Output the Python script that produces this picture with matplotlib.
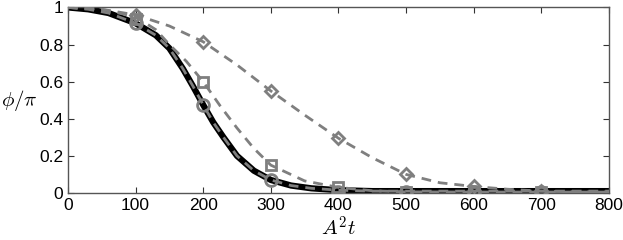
import numpy as np
import matplotlib
matplotlib.use("Agg")
import matplotlib.pyplot as plt

plt.rcParams['font.family'] = ['Liberation Sans', 'DejaVu Sans']
plt.rcParams['mathtext.fontset'] = 'cm'

# curves
t_curve = [0, 30, 60, 100, 130, 150, 170, 185, 200, 215, 230, 250, 275, 300, 330, 360, 400, 450, 500, 600, 700, 800]
phi_exact = [1.0, 0.99, 0.97, 0.915, 0.85, 0.78, 0.67, 0.575, 0.475, 0.38, 0.3, 0.2, 0.12, 0.07, 0.04, 0.025, 0.015, 0.01, 0.01, 0.01, 0.01, 0.01]
t_sq = [0, 50, 100, 130, 150, 175, 200, 225, 250, 275, 300, 350, 400, 450, 500, 600, 700, 800]
phi_sq = [1.0, 0.99, 0.95, 0.88, 0.8, 0.71, 0.6, 0.47, 0.35, 0.24, 0.15, 0.065, 0.03, 0.012, 0.006, 0.005, 0.005, 0.005]
t_di = [0, 50, 100, 150, 200, 250, 300, 350, 400, 450, 500, 550, 600, 650, 700, 750, 800]
phi_di = [1.0, 0.99, 0.96, 0.9, 0.815, 0.69, 0.55, 0.42, 0.295, 0.19, 0.10, 0.055, 0.035, 0.02, 0.01, 0.006, 0.005]

# markers
t_pts = [100, 200, 300, 400, 500, 600, 700]
circ_pts = [0.915, 0.475, 0.07, 0.005, 0.005, 0.005, 0.005]
sq_pts = [0.94, 0.60, 0.15, 0.03, 0.005, 0.005, 0.005]
di_pts = [0.96, 0.815, 0.55, 0.295, 0.10, 0.035, 0.01]

gray = '#7f7f7f'
dash = (0, (3.5, 2.5))
fig = plt.figure(figsize=(6.23, 2.4), dpi=100)
ax = fig.add_axes([0.109, 0.196, 0.8685, 0.773])

ax.plot(t_curve, phi_exact, color='black', lw=4.5, solid_capstyle='butt', zorder=2)
ax.plot(t_curve, phi_exact, color=gray, lw=2, ls=dash, zorder=3)
ax.plot(t_sq, phi_sq, color=gray, lw=2, ls=dash, zorder=3)
ax.plot(t_di, phi_di, color=gray, lw=2, ls=dash, zorder=3)

mk = dict(ls='none', mfc='none', mec=gray, mew=2, ms=8.5, zorder=4)
ax.plot(t_pts, circ_pts, marker='o', **mk)
ax.plot(t_pts, sq_pts, marker='s', **dict(mk, ms=7))
ax.plot(t_pts, di_pts, marker='D', **dict(mk, ms=6.5))

ax.set_xlim(0, 800)
ax.set_ylim(0, 1)
ax.set_xticks(np.arange(0, 801, 100))
ax.set_yticks([0, 0.2, 0.4, 0.6, 0.8, 1])
ax.set_yticklabels(['0', '0.2', '0.4', '0.6', '0.8', '1'])
ax.tick_params(direction='in', top=True, right=True, labelsize=12.5, length=4, color='#333333')
for s in ax.spines.values():
    s.set_color('#555555')
    s.set_linewidth(1)

ax.set_xlabel(r'$A^2t$', fontsize=15, labelpad=2)
ax.set_ylabel(r'$\phi/\pi$', fontsize=15, rotation=0, labelpad=14, va='center')

fig.savefig('out.png', dpi=100)
